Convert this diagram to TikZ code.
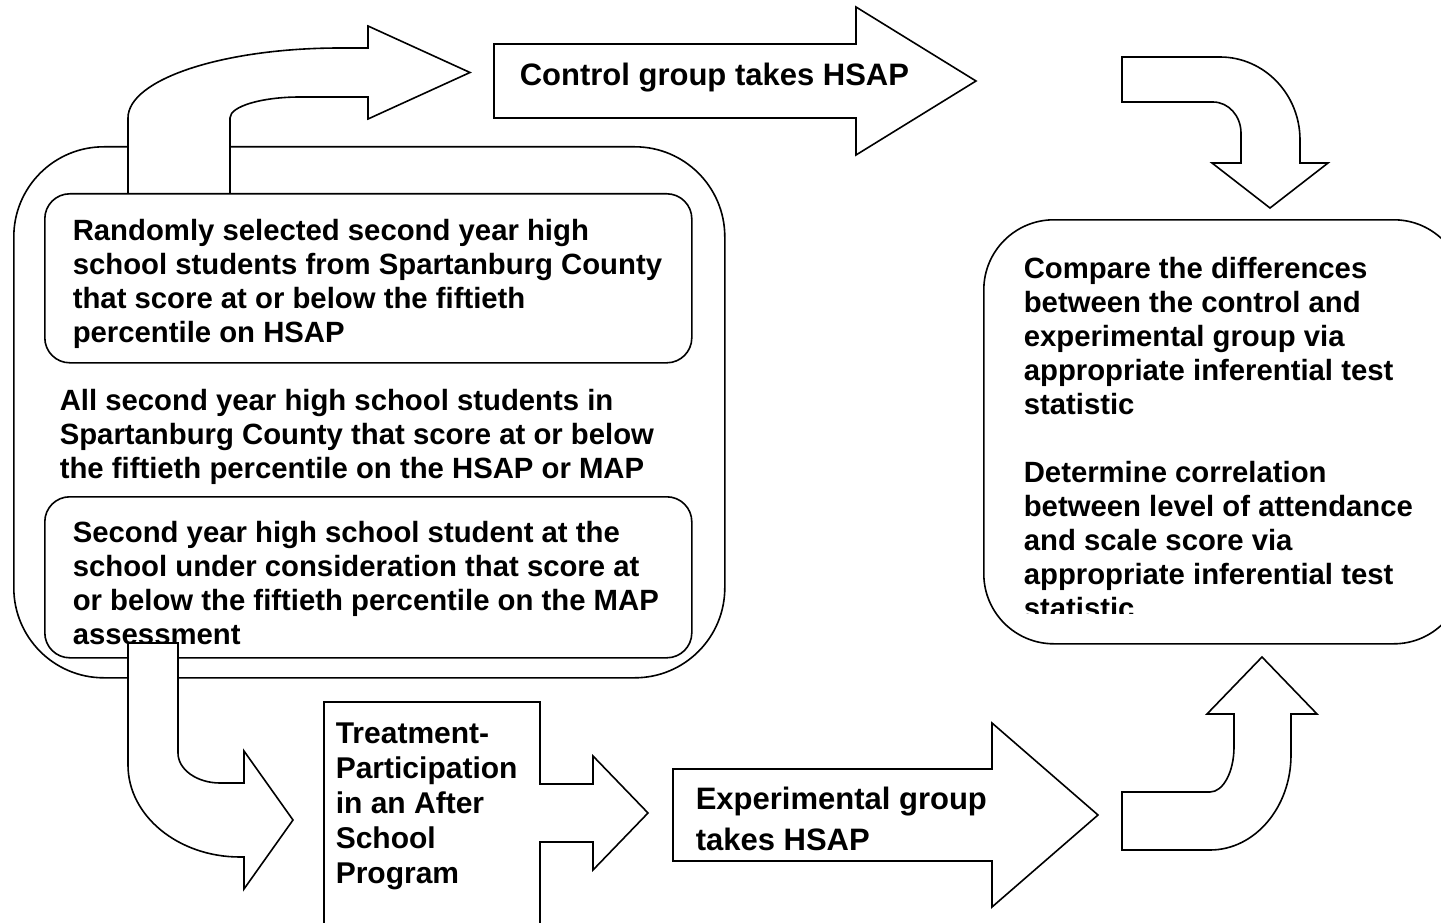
\documentclass[tikz,border=0pt]{standalone}
\usepackage{fontspec}
\setmainfont{Liberation Sans}
\begin{document}
\begin{tikzpicture}[x=1pt,y=-1pt, line width=1.6pt, line join=miter,
  box/.style={draw, fill=white, inner sep=0pt, anchor=north west},
  blockarrow/.style={draw, fill=white, line join=miter},
  txt/.style={anchor=north west, inner sep=0pt, align=left, font=\fontsize{29.3}{34}\selectfont\bfseries},
  arrtxt/.style={anchor=north west, inner sep=0pt, align=left, font=\fontsize{31}{41}\selectfont\bfseries},
]
\useasboundingbox[fill=white] (0,0) rectangle (1441,923);
\clip (0,0) rectangle (1441,923);

% outer group box
\node[box, rounded corners=90pt, minimum width=711pt, minimum height=531pt] (outer) at (13,146) {};

% bent arrow up-right to control group
\draw[blockarrow] (128,193) -- (128,118) .. controls (128,79.4) and (223,48) .. (340,48) -- (368,48) -- (368,26) -- (470,72.5) -- (368,119) -- (368,97) -- (300,97) .. controls (261.4,97) and (230,106.4) .. (230,118) -- (230,193);

% inner boxes
\node[box, rounded corners=25pt, minimum width=647pt, minimum height=169pt] (sel) at (44,193) {};
\node[box, rounded corners=25pt, minimum width=647pt, minimum height=161pt] (sch) at (44,496) {};

\node[txt] (tsel) at (72,218) {Randomly selected second year high\\school students from Spartanburg County\\that score at or below the fiftieth\\percentile on HSAP};
\node[txt] (tall) at (59,388) {All second year high school students in\\Spartanburg County that score at or below\\the fiftieth percentile on the HSAP or MAP};
\node[txt] (tsch) at (72,520) {Second year high school student at the\\school under consideration that score at\\or below the fiftieth percentile on the MAP\\assessment};

% bent arrow down-right to treatment
\draw[blockarrow] (128,643) -- (128,765) .. controls (128,815.8) and (178.2,857) .. (240,857) -- (244,857) -- (244,889) -- (293,820) -- (244,751) -- (244,783) -- (220,783) .. controls (197,783) and (178,769.6) .. (178,753) -- (178,643) -- cycle;

% control group arrow
\draw[blockarrow] (494,44) -- (856,44) -- (856,7) -- (976,81) -- (856,155) -- (856,118) -- (494,118) -- cycle;
\node[arrtxt] (tctl) at (519,62) {Control group takes HSAP};

% bent arrow right-down to comparison
\draw[blockarrow] (1122,57) -- (1220,57) .. controls (1264,57) and (1300,94) .. (1300,140) -- (1300,163) -- (1328,163) -- (1270,208) -- (1212,163) -- (1241,163) -- (1241,133) .. controls (1241,116) and (1228.5,102) .. (1213,102) -- (1122,102) -- cycle;

% comparison box
\node[box, rounded corners=70pt, minimum width=480pt, minimum height=424pt] (cmp) at (983,219) {};
\begin{scope}
\clip (0,0) rectangle (1441,613);
\node[txt] (tcmp) at (1023,256) {Compare the differences\\between the control and\\experimental group via\\appropriate inferential test\\statistic\\[34pt]Determine correlation\\between level of attendance\\and scale score via\\appropriate inferential test\\statistic};
\end{scope}

% treatment box
\node[box, minimum width=216pt, minimum height=240pt] (treat) at (323,701) {};
\node[txt, font=\fontsize{30}{35}\selectfont\bfseries] (ttr) at (335,722) {Treatment-\\Participation\\in an After\\School\\Program};

% arrow treatment -> experimental
\fill[white] (537.5,784.8) rectangle (545,841.2);
\draw[blockarrow] (539,784) -- (593,784) -- (593,756) -- (648,813) -- (593,870) -- (593,842) -- (539,842);

% experimental group arrow
\draw[blockarrow] (673,769) -- (992,769) -- (992,723) -- (1098,815) -- (992,907) -- (992,861) -- (673,861) -- cycle;
\node[arrtxt] (texp) at (695,786) {Experimental group\\takes HSAP};

% bent arrow right-up to comparison
\draw[blockarrow] (1122,850) -- (1210,850) .. controls (1254.7,850) and (1291,807.4) .. (1291,755) -- (1291,714) -- (1317,714) -- (1262,657) -- (1207,714) -- (1234,714) -- (1234,747) .. controls (1234,771.8) and (1223.2,792) .. (1210,792) -- (1122,792) -- cycle;
\end{tikzpicture}
\end{document}
